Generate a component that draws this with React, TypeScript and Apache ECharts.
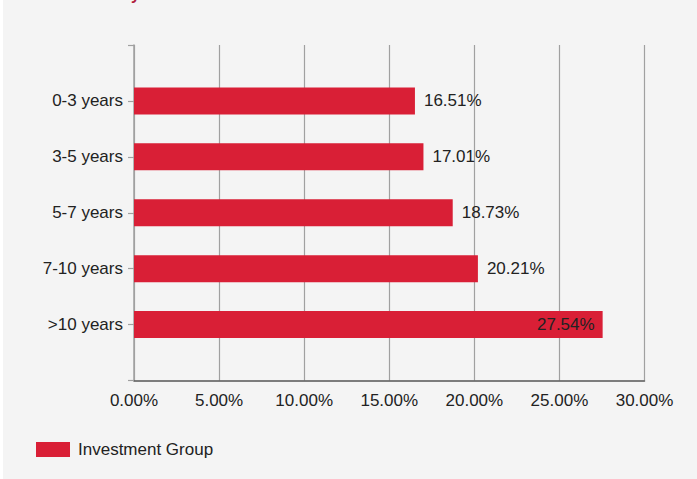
import React, { useEffect, useRef } from "react";
import * as echarts from "echarts";

const categories = ["0-3 years", "3-5 years", "5-7 years", "7-10 years", ">10 years"];
const values = [16.51, 17.01, 18.73, 20.21, 27.54];
const seriesName = "Investment Group";
const xTicks = [0, 5, 10, 15, 20, 25, 30];

export default function App() {
  const ref = useRef<HTMLDivElement>(null);
  useEffect(() => {
    document.body.style.margin = "0";
    const chart = echarts.init(ref.current!, null, { renderer: "svg" });
    const cats = ["", ...categories, ""];
    const data: any[] = ["-"];
    values.forEach((v, i) => {
      const item: any = { value: v };
      if (i === values.length - 1) item.label = { position: "insideRight", distance: 8 };
      data.push(item);
    });
    data.push("-");
    const font = "Arial, 'Liberation Sans', sans-serif";
    chart.setOption({
      animation: false,
      backgroundColor: "#ffffff",
      textStyle: { fontFamily: font },
      graphic: [
        { type: "rect", z: -10, shape: { x: 3, y: 0, width: 694, height: 479 }, style: { fill: "#f4f4f4" } },
        { type: "text", x: 140, y: 2, style: { text: "Maturity", font: "bold 16px " + font, fill: "#b01e3c", align: "right", verticalAlign: "bottom" } },
      ],
      grid: { left: 134, right: 52.5, top: 45, bottom: 98.5, containLabel: false },
      legend: {
        left: 36,
        top: 441,
        padding: 0,
        itemWidth: 34,
        itemHeight: 15,
        icon: "rect",
        data: [seriesName],
        textStyle: { fontSize: 17, color: "#222", fontFamily: font, padding: [0, 0, 0, 3] },
      },
      xAxis: {
        type: "value",
        min: xTicks[0],
        max: xTicks[xTicks.length - 1],
        interval: 5,
        axisLine: { show: true, lineStyle: { color: "#555", width: 1.5 } },
        axisTick: { show: false },
        splitLine: { show: true, lineStyle: { color: "#a0a0a0", width: 1.2 } },
        axisLabel: { fontSize: 17, color: "#222", margin: 11, formatter: (v: number) => v.toFixed(2) + "%" },
      },
      yAxis: {
        type: "category",
        data: cats,
        inverse: true,
        boundaryGap: false,
        axisLine: { show: true, lineStyle: { color: "#a0a0a0", width: 1.5 } },
        axisTick: { show: true, length: 6, lineStyle: { color: "#a0a0a0", width: 1.2 } },
        splitLine: { show: false },
        axisLabel: { fontSize: 17, color: "#222", margin: 11, interval: 0 },
      },
      series: [
        {
          name: seriesName,
          type: "bar",
          data,
          barWidth: 27,
          itemStyle: { color: "#d91f36" },
          label: {
            show: true,
            position: "right",
            distance: 9,
            fontSize: 17,
            color: "#222",
            formatter: (p: any) => Number(p.value).toFixed(2) + "%",
          },
        },
      ],
    });
    return () => chart.dispose();
  }, []);
  return <div ref={ref} style={{ position: "fixed", left: 0, top: 0, width: 697, height: 479 }} />;
}
